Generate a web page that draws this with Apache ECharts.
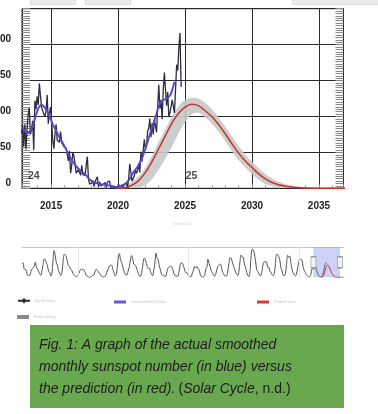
<!DOCTYPE html>
<html lang="en">
<head>
<meta charset="UTF-8">
<title>Solar cycle progression</title>
<script src="https://cdn.jsdelivr.net/npm/echarts@6/dist/echarts.min.js"></script>
<style>
    html, body { margin: 0; padding: 0; background: #fff; }
    #main { width: 378px; height: 414px; }
</style>
</head>
<body>
<div id="main"></div>
<script type="text/javascript">
    // yearly mean sunspot number from 1749 (used for the overview strip)
    var histStart = 1749;
    var histValues = [134.0,
        139.0, 79.8, 79.7, 51.2, 20.3, 16.0, 17.0, 54.0, 79.3, 90.0,
        104.8, 143.2, 102.0, 75.2, 60.7, 34.8, 19.0, 63.0, 116.3, 176.8,
        168.0, 136.0, 110.8, 58.0, 51.0, 11.7, 33.0, 154.2, 257.3, 209.8,
        141.3, 113.5, 64.2, 38.0, 17.0, 40.2, 138.2, 220.0, 218.2, 196.8,
        149.8, 111.0, 100.0, 78.2, 68.3, 35.5, 26.7, 10.7, 6.8, 11.3,
        24.2, 56.7, 75.0, 71.8, 79.2, 70.3, 46.8, 16.8, 13.5, 4.2,
        0.0, 2.3, 8.3, 20.3, 23.2, 59.0, 76.3, 68.3, 52.9, 38.5,
        24.2, 9.2, 6.3, 2.2, 11.4, 28.2, 59.9, 83.0, 108.5, 115.2,
        117.4, 80.8, 44.3, 13.4, 19.5, 85.8, 192.7, 227.3, 168.7, 143.0,
        105.5, 63.3, 40.3, 18.1, 25.1, 65.8, 102.7, 166.3, 208.3, 182.5,
        126.3, 122.0, 102.7, 74.1, 39.0, 12.7, 8.2, 43.4, 104.4, 178.3,
        182.2, 146.6, 112.1, 83.5, 89.2, 57.8, 30.7, 13.9, 62.8, 123.6,
        232.0, 185.3, 169.2, 110.1, 74.5, 28.3, 18.9, 20.7, 5.7, 10.0,
        53.7, 90.5, 99.0, 106.1, 105.8, 86.3, 42.4, 21.8, 11.2, 10.4,
        11.8, 59.5, 121.7, 142.0, 130.0, 106.6, 69.4, 43.8, 44.4, 20.2,
        15.7, 4.6, 8.5, 40.8, 70.1, 105.5, 90.1, 102.8, 80.9, 73.2,
        30.9, 9.5, 6.0, 2.4, 16.1, 79.0, 95.0, 173.6, 134.6, 105.7,
        62.7, 43.5, 23.7, 9.7, 27.9, 74.0, 106.5, 114.7, 129.7, 108.2,
        59.4, 35.1, 18.6, 9.2, 14.6, 60.2, 132.8, 190.6, 182.6, 148.0,
        113.0, 79.2, 50.8, 27.1, 16.1, 55.3, 154.3, 214.7, 193.0, 190.7,
        118.9, 98.3, 45.0, 20.1, 6.6, 54.2, 200.7, 269.3, 261.7, 225.1,
        159.0, 76.4, 53.4, 39.9, 15.0, 22.0, 66.8, 132.9, 150.0, 149.4,
        148.0, 94.4, 97.6, 54.1, 49.2, 22.5, 18.4, 39.3, 131.0, 220.1,
        218.9, 198.9, 162.4, 91.0, 60.5, 20.6, 14.8, 33.9, 123.0, 211.1,
        191.8, 203.3, 133.0, 76.1, 44.9, 25.1, 11.6, 28.9, 88.3, 136.3,
        173.9, 170.4, 163.6, 99.3, 65.3, 45.8, 24.7, 12.6, 4.2, 4.8,
        24.9, 80.8, 84.5];

    // monthly values, first month = Oct 2012
    var monthStart = 2012 + 9 / 12;
    var monthlyValues = [76, 88, 58,
        89, 54, 82, 103, 112, 75, 81, 94, 53, 122, 110, 128,
        116, 146, 129, 113, 113, 103, 100, 107, 130, 90, 104, 113,
        93, 67, 55, 75, 89, 67, 66, 64, 79, 64, 62, 58,
        57, 56, 54, 38, 52, 21, 32, 50, 45, 33, 21, 19,
        26, 26, 18, 32, 19, 19, 18, 33, 44, 13, 6, 8,
        7, 11, 2.5, 9, 13, 16, 1.6, 9, 3.3, 5, 5, 3,
        8, 1, 9, 9, 10, 1, 1, 0.5, 1, 0.4, 0.5, 1.5,
        6, 0.2, 1.5, 5, 0.2, 6, 6, 7.5, 0.6, 14, 34, 22,
        10, 8, 17, 25, 21, 25, 34, 22, 51, 37, 35, 68,
        55, 60, 79, 84, 97, 71, 91, 75, 96, 95, 78, 113,
        144, 111, 123, 96, 137, 161, 159, 115, 134, 99, 105, 114,
        123, 125, 105, 137, 172, 164, 197, 216, 141];

    // smoothed monthly values, same start month
    var smoothedValues = [86, 84, 82,
        80, 78, 77, 77, 78, 80, 82, 86, 91, 97, 102, 107,
        111, 114, 116, 116.5, 115, 114, 112, 110, 107, 104, 100, 97,
        93, 89, 86, 83, 80, 77, 74, 71, 68, 66, 63, 60,
        57, 54, 51, 48, 45, 42, 40, 37, 35, 33, 31, 29,
        27, 26, 24, 23, 22, 21, 20, 18, 16, 14, 12, 11,
        10, 9, 8.5, 8, 7.5, 7, 6.5, 6, 5.5, 5.5, 5.5, 5.5,
        5, 5, 4.5, 4, 4, 3.5, 3, 3, 2.5, 2, 2, 1.8,
        2, 2.5, 3, 3.5, 4, 5, 6, 7.5, 9, 11, 13, 16,
        19, 22, 24, 26, 28, 30, 33, 36, 39, 42, 46, 51,
        55, 60, 65, 70, 75, 80, 85, 89, 94, 99, 104, 110,
        115, 118, 121, 122, 123, 123, 124, 125, 126, 127, 129, 132,
        137, 142, 148];

    // prediction for cycle 25 and its range
    var predYears = [2019.9, 2020.5, 2021, 2021.5, 2022, 2022.5, 2023, 2023.5, 2024, 2024.5,
        2025, 2025.5, 2026, 2026.5, 2027, 2027.5, 2028, 2028.5, 2029, 2029.5,
        2030, 2030.5, 2031, 2031.5, 2032, 2032.5, 2033, 2033.5, 2034, 2035,
        2036, 2037, 2038, 2039, 2040];
    var predValues = [0, 0.5, 4, 10, 21, 36, 54, 72, 90, 104,
        113, 117, 115, 108, 100, 89, 76, 62, 49, 38,
        29, 20, 13, 8, 5, 3, 1.5, 0.8, 0.3, 0,
        0, 0, 0, 0, 0];
    var predHigh = [0, 3, 8, 16, 28, 44, 63, 81, 99, 114,
        123, 126, 125, 119, 110, 99, 86, 72, 59, 47,
        37, 28, 20, 14, 9, 6, 4, 2.5, 1.5, 0.5,
        0, 0, 0, 0, 0];
    var predLow = [0, 0, 0, 1, 4, 12, 25, 40, 57, 76,
        92, 103, 105, 99, 90, 79, 66, 52, 39, 29,
        20, 12, 6, 3, 1, 0.5, 0, 0, 0, 0,
        0, 0, 0, 0, 0];

    var centuryLines = [1800, 1900, 2000];
    var cycleYears = [2013.28, 2025.05];
    var cycleNames = ['24', '25'];
    var cycleLevel = 17;
    var viewStart = 2012.83, viewEnd = 2036.83;

    function monthX(i) { return monthStart + (i + 0.5) / 12; }
    var histData = histValues.map(function (v, i) { return [histStart + i + 0.5, v]; });
    var obsData = monthlyValues.map(function (v, i) { return [monthX(i), v]; });
    var smoothData = smoothedValues.map(function (v, i) { return [monthX(i), v]; });
    var overviewData = histData.concat(smoothData);
    var predData = predYears.map(function (y, i) { return [y, predValues[i]]; });
    var rangeData = predYears.map(function (y, i) { return [y, predLow[i], predHigh[i]]; });
    var cycleData = cycleYears.map(function (y, i) { return [y, cycleLevel, cycleNames[i]]; });

    var font = '"Liberation Sans", Arial, sans-serif';
    var legendText = { fontSize: 3, color: '#c4c4c4', fontFamily: font };
    var myChart = echarts.init(document.getElementById('main'));

    // the grey band: one polygon through the upper bound and back along the lower bound
    function renderRange(params, api) {
        if (params.dataIndex !== 0) return null;
        var pts = [];
        for (var i = 0; i < rangeData.length; i++) {
            pts.push(api.coord([rangeData[i][0], rangeData[i][2]]));
        }
        for (var j = rangeData.length - 1; j >= 0; j--) {
            pts.push(api.coord([rangeData[j][0], rangeData[j][1]]));
        }
        return {
            type: 'polygon',
            shape: { points: pts, smooth: 0.3 },
            style: { fill: '#c6c9c8', opacity: 0.9 }
        };
    }

    var option = {
        animation: false,
        backgroundColor: '#fff',
        grid: [
            { left: 22, right: 34.5, top: 8.7, height: 179.6, show: true, borderColor: '#1e1e1e', borderWidth: 1, outerBoundsMode: 'none', containLabel: false },
            { left: 22, right: 34.5, top: 247.3, height: 30, outerBoundsMode: 'none', containLabel: false }
        ],
        legend: [
            { left: 12, top: 293, itemWidth: 12, itemHeight: 7, textStyle: legendText, data: ['Monthly Values'], selectedMode: false },
            { left: 109, top: 295.5, itemWidth: 12, itemHeight: 3, textStyle: legendText, selectedMode: false,
              data: [{ name: 'Smoothed Monthly Values', icon: 'rect', itemStyle: { color: '#6a55d6' } }] },
            { left: 252, top: 295.5, itemWidth: 12, itemHeight: 3, textStyle: legendText, selectedMode: false,
              data: [{ name: 'Predicted Values', icon: 'rect', itemStyle: { color: '#d0403a' } }] },
            { left: 12, top: 310, itemWidth: 12, itemHeight: 4, textStyle: legendText, selectedMode: false,
              data: [{ name: 'Predicted Range', icon: 'rect', itemStyle: { color: '#8a8a8a' } }] }
        ],
        xAxis: [
            {
                type: 'value', gridIndex: 0, min: viewStart, max: viewEnd,
                name: 'Universal Time', nameLocation: 'middle', nameGap: 34,
                nameTextStyle: { fontSize: 3, color: '#d0d0d0' },
                axisLine: { onZero: false, lineStyle: { color: '#1e1e1e' } },
                axisTick: { show: true, inside: true, length: 4, lineStyle: { color: '#888' } },
                minorTick: { show: true, splitNumber: 5, length: 3, lineStyle: { color: '#999' } },
                splitLine: { show: true, lineStyle: { color: '#2a2a2a', width: 1 } },
                axisLabel: {
                    showMinLabel: false, showMaxLabel: false, margin: 13,
                    formatter: function (v) { return String(Math.round(v)); },
                    fontSize: 10, fontWeight: 'bold', color: '#222', fontFamily: font
                }
            },
            {
                type: 'value', gridIndex: 1,
                min: histData[0][0], max: predYears[predYears.length - 1],
                position: 'top',
                axisLine: { onZero: false, lineStyle: { color: '#c8c8c8' } },
                axisTick: { show: false }, axisLabel: { show: false }, splitLine: { show: false }
            }
        ],
        yAxis: [
            {
                type: 'value', gridIndex: 0, min: 0, max: 250, interval: 50,
                axisLine: { show: true, onZero: false, lineStyle: { color: '#1e1e1e' } },
                axisTick: { show: true, inside: true, length: 8, lineStyle: { color: '#888' } },
                minorTick: { show: true, splitNumber: 15, length: 8, lineStyle: { color: '#8a8a8a' } },
                splitLine: { show: true, lineStyle: { color: '#2a2a2a', width: 1 } },
                axisLabel: {
                    showMaxLabel: false, margin: 11, verticalAlign: 'bottom',
                    fontSize: 10, fontWeight: 'bold', color: '#222', fontFamily: font
                }
            },
            {
                type: 'value', gridIndex: 0, min: 0, max: 250, interval: 50, position: 'right',
                axisLine: { show: true, onZero: false, lineStyle: { color: '#1e1e1e' } },
                axisTick: { show: true, inside: true, length: 8, lineStyle: { color: '#888' } },
                minorTick: { show: true, splitNumber: 15, length: 8, lineStyle: { color: '#8a8a8a' } },
                splitLine: { show: false }, axisLabel: { show: false }
            },
            {
                type: 'value', gridIndex: 1, min: 0, max: 288,
                axisLine: { show: false }, axisTick: { show: false },
                axisLabel: { show: false }, splitLine: { show: false }
            }
        ],
        series: [
            {
                name: 'Predicted Range', type: 'custom', xAxisIndex: 0, yAxisIndex: 0,
                data: rangeData, renderItem: renderRange, clip: true, silent: true,
                itemStyle: { color: '#8a8a8a' },
                encode: { x: 0, y: [1, 2] }
            },
            {
                name: 'Monthly Values', type: 'line', xAxisIndex: 0, yAxisIndex: 0,
                data: obsData, showSymbol: false, symbol: 'diamond', symbolSize: 6,
                color: '#2b2f3d', lineStyle: { color: '#2b2f3d', width: 1.3 }
            },
            {
                name: 'Smoothed Monthly Values', type: 'line', xAxisIndex: 0, yAxisIndex: 0,
                data: smoothData, showSymbol: false, symbol: 'none',
                color: '#5a44d0', lineStyle: { color: '#5a44d0', width: 1.9 }
            },
            {
                name: 'Predicted Values', type: 'line', xAxisIndex: 0, yAxisIndex: 0,
                data: predData, smooth: 0.4, showSymbol: false, symbol: 'none',
                color: '#c8322e', lineStyle: { color: '#c8322e', width: 1.5 }
            },
            {
                name: 'cycles', type: 'scatter', xAxisIndex: 0, yAxisIndex: 0,
                data: cycleData, symbolSize: 0, silent: true,
                label: {
                    show: true, position: [0, 0], align: 'left', verticalAlign: 'middle',
                    formatter: function (p) { return p.value[2]; },
                    fontSize: 10.5, fontWeight: 'bold', color: '#222', fontFamily: font
                }
            },
            {
                name: 'overview', type: 'line', xAxisIndex: 1, yAxisIndex: 2,
                data: overviewData, showSymbol: false, symbol: 'none', smooth: 0.3, silent: true,
                lineStyle: { color: '#555', width: 1 },
                markLine: {
                    silent: true, symbol: 'none', label: { show: false },
                    lineStyle: { color: '#e6e6e6', type: 'solid', width: 1 },
                    data: centuryLines.map(function (y) { return { xAxis: y }; })
                },
                markArea: {
                    silent: true,
                    itemStyle: { color: 'rgba(120,135,235,0.38)' },
                    data: [[{ xAxis: viewStart }, { xAxis: viewEnd }]]
                },
                markPoint: {
                    silent: true, symbol: 'rect', symbolSize: [5, 11],
                    label: { show: false },
                    itemStyle: { color: '#f3f3f3', borderColor: '#9a9a9a', borderWidth: 1 },
                    data: [{ coord: [viewStart, 144] }, { coord: [viewEnd, 144] }]
                }
            },
            {
                name: 'overviewPred', type: 'line', xAxisIndex: 1, yAxisIndex: 2,
                data: predData, showSymbol: false, symbol: 'none', smooth: 0.3, silent: true,
                lineStyle: { color: '#c8322e', width: 1 }
            }
        ],
        graphic: [
            { type: 'rect', left: 30, top: -5, shape: { width: 45, height: 9 }, style: { fill: '#ececec', stroke: '#dddddd' }, silent: true },
            { type: 'rect', left: 85, top: -5, shape: { width: 45, height: 9 }, style: { fill: '#ececec', stroke: '#dddddd' }, silent: true },
            { type: 'rect', left: 292, top: -5, shape: { width: 90, height: 9 }, style: { fill: '#ececec', stroke: '#dddddd' }, silent: true },
            { type: 'rect', left: 30, top: 325, shape: { width: 314, height: 83 }, style: { fill: '#6aa84f' }, silent: true },
            {
                type: 'text', left: 39, top: 338, silent: true,
                style: {
                    text: '{i|Fig. 1: A graph of the actual smoothed}\n' +
                          '{i|monthly sunspot number (in blue) versus}\n' +
                          '{i|the prediction (in red).} {n|(}{i|Solar Cycle}{n|, n.d.)}',
                    rich: {
                        i: { fontSize: 14, fontStyle: 'italic', fontFamily: font, fill: '#1d1d1d', lineHeight: 22 },
                        n: { fontSize: 14, fontFamily: font, fill: '#1d1d1d', lineHeight: 22 }
                    }
                }
            }
        ]
    };
    myChart.setOption(option);
</script>
</body>
</html>
